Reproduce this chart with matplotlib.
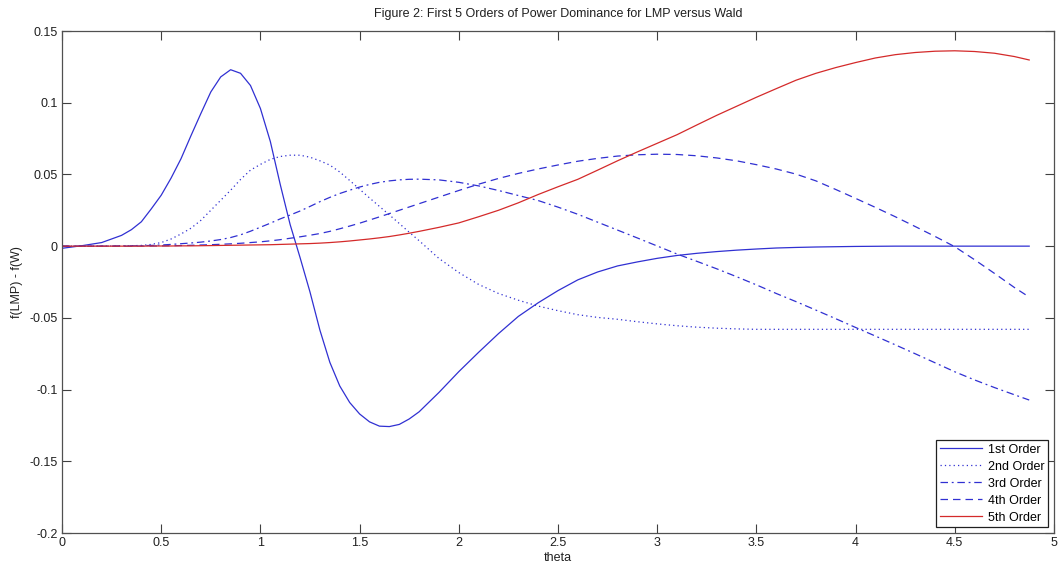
import matplotlib
matplotlib.use("Agg")
import matplotlib.pyplot as plt

plt.rcParams['font.family'] = ['Liberation Sans', 'DejaVu Sans']

theta = [0, 0.1, 0.2,
         0.3, 0.35, 0.4, 0.45, 0.5, 0.55, 0.6, 0.65, 0.7, 0.75,
         0.8, 0.85, 0.9, 0.95, 1.0, 1.05, 1.1, 1.15, 1.2, 1.25,
         1.3, 1.35, 1.4, 1.45, 1.5, 1.55, 1.6, 1.65, 1.7, 1.75, 1.8,
         1.9, 2.0, 2.1, 2.2, 2.3, 2.4, 2.5, 2.6, 2.7, 2.8,
         2.9, 3.0, 3.1, 3.2, 3.3, 3.4, 3.5, 3.6, 3.7, 3.8,
         3.9, 4.0, 4.1, 4.2, 4.3, 4.4, 4.5, 4.6, 4.7, 4.8, 4.875]

order1 = [-0.0015, 0.0003, 0.0025,
          0.0075, 0.0115, 0.017, 0.026, 0.0355, 0.0475, 0.061, 0.077, 0.0925, 0.1075,
          0.118, 0.123, 0.1205, 0.112, 0.096, 0.073, 0.043, 0.015, -0.008, -0.032,
          -0.0586, -0.081, -0.0975, -0.109, -0.117, -0.1225, -0.1255, -0.1258, -0.1243, -0.1205, -0.1155,
          -0.102, -0.0875, -0.074, -0.061, -0.049, -0.0395, -0.031, -0.0235, -0.018, -0.0138,
          -0.011, -0.0085, -0.0065, -0.005, -0.0038, -0.0028, -0.002, -0.0013, -0.0009, -0.0006,
          -0.0004, -0.0002, -0.0001, 0.0, 0.0, 0.0, 0.0, 0.0, 0.0, 0.0, 0.0]

order2 = [0.0, 0.0, 0.0,
          0.0002, 0.0003, 0.0005, 0.0012, 0.0025, 0.005, 0.0085, 0.0125, 0.018, 0.025,
          0.032, 0.039, 0.0465, 0.053, 0.057, 0.0605, 0.0625, 0.0634, 0.0634, 0.062,
          0.0595, 0.0565, 0.0517, 0.0458, 0.0397, 0.0336, 0.0277, 0.0218, 0.0158, 0.0097, 0.0038,
          -0.0086, -0.0184, -0.0267, -0.033, -0.0377, -0.0418, -0.045, -0.0478, -0.0497, -0.051,
          -0.0527, -0.0542, -0.0555, -0.0565, -0.0572, -0.0577, -0.058, -0.058, -0.058, -0.058,
          -0.058, -0.058, -0.058, -0.058, -0.058, -0.058, -0.058, -0.058, -0.058, -0.058, -0.058]

order3 = [0.0, 0.0, 0.0,
          0.0001, 0.0002, 0.0003, 0.0005, 0.0008, 0.0012, 0.0017, 0.0022, 0.0028, 0.0036,
          0.0046, 0.006, 0.0079, 0.0104, 0.0132, 0.016, 0.019, 0.0217, 0.0245, 0.0277,
          0.031, 0.034, 0.0367, 0.039, 0.0412, 0.043, 0.0445, 0.0455, 0.0462, 0.0466, 0.0467,
          0.0462, 0.0445, 0.042, 0.0388, 0.0353, 0.0318, 0.0272, 0.0222, 0.0167, 0.0112,
          0.0057, 0.0001, -0.0055, -0.0106, -0.0158, -0.0213, -0.027, -0.033, -0.0387, -0.0446,
          -0.0506, -0.0567, -0.0627, -0.0688, -0.075, -0.0813, -0.0876, -0.0933, -0.0986, -0.1036, -0.1073]

order4 = [0.0, 0.0, 0.0,
          0.0, 0.0, 0.0001, 0.0001, 0.0002, 0.0003, 0.0004, 0.0006, 0.0008, 0.001,
          0.0013, 0.0016, 0.002, 0.0025, 0.003, 0.0037, 0.0045, 0.0055, 0.0065, 0.0076,
          0.0088, 0.0103, 0.0121, 0.014, 0.016, 0.0182, 0.0204, 0.0227, 0.025, 0.0273, 0.0296,
          0.0342, 0.0388, 0.0432, 0.0472, 0.0507, 0.0538, 0.0566, 0.0592, 0.0612, 0.0628,
          0.0637, 0.0641, 0.0639, 0.063, 0.0615, 0.0595, 0.0568, 0.0538, 0.0502, 0.0455,
          0.0395, 0.0333, 0.027, 0.0205, 0.0137, 0.0068, -0.0004, -0.0095, -0.019, -0.0288, -0.0355]

order5 = [0.0, 0.0, 0.0,
          0.0, 0.0, 0.0, 0.0001, 0.0001, 0.0001, 0.0002, 0.0002, 0.0003, 0.0004,
          0.0005, 0.0006, 0.0007, 0.0008, 0.0009, 0.001, 0.0012, 0.0014, 0.0016, 0.0018,
          0.0021, 0.0025, 0.003, 0.0036, 0.0043, 0.005, 0.0058, 0.0067, 0.0078, 0.009, 0.0103,
          0.0131, 0.0162, 0.0205, 0.025, 0.0302, 0.036, 0.0414, 0.0466, 0.053, 0.0595,
          0.0657, 0.0717, 0.0777, 0.0845, 0.0912, 0.0975, 0.1038, 0.1098, 0.1157, 0.1205,
          0.1245, 0.128, 0.1312, 0.1335, 0.135, 0.1359, 0.1362, 0.1357, 0.1345, 0.1322, 0.1298]

labels = ['1st Order', '2nd Order', '3rd Order', '4th Order', '5th Order']
xticks = [0, 0.5, 1, 1.5, 2, 2.5, 3, 3.5, 4, 4.5, 5]
xticklabels = ['0', '0.5', '1', '1.5', '2', '2.5', '3', '3.5', '4', '4.5', '5']
yticks = [-0.2, -0.15, -0.1, -0.05, 0, 0.05, 0.1, 0.15]
yticklabels = ['-0.2', '-0.15', '-0.1', '-0.05', '0', '0.05', '0.1', '0.15']

blue = '#3030d2'
red = '#d42a2a'
txt = '#202020'

fig = plt.figure(figsize=(10.6, 5.7), dpi=100)
ax = fig.add_axes([62 / 1060, 37 / 570, 992 / 1060, 502 / 570])

ax.plot(theta, order1, color=blue, lw=0.9, linestyle='-', label=labels[0])
ax.plot(theta, order2, color=blue, lw=0.9, linestyle=(0, (1, 2.5)), label=labels[1])
ax.plot(theta, order3, color=blue, lw=0.9, linestyle=(0, (6, 3, 1.5, 3)), label=labels[2])
ax.plot(theta, order4, color=blue, lw=0.9, linestyle=(0, (6, 4)), label=labels[3])
ax.plot(theta, order5, color=red, lw=0.9, linestyle='-', label=labels[4])

ax.set_xlim(0, 5)
ax.set_ylim(-0.2, 0.15)
ax.set_xticks(xticks)
ax.set_xticklabels(xticklabels)
ax.set_yticks(yticks)
ax.set_yticklabels(yticklabels)
ax.tick_params(direction='in', length=6.5, width=0.8, color='#404040',
               labelsize=9, labelcolor=txt, top=True, right=True, pad=3)
for s in ax.spines.values():
    s.set_color('#505050')
    s.set_linewidth(0.9)

ax.set_title('Figure 2: First 5 Orders of Power Dominance for LMP versus Wald',
             fontsize=9, color=txt, pad=10)
ax.set_xlabel('theta', fontsize=9, color=txt, labelpad=2)
ax.set_ylabel('f(LMP) - f(W)', fontsize=9, color=txt, labelpad=5)

leg = ax.legend(loc='lower right', fontsize=9, frameon=True, fancybox=False,
                edgecolor=txt, framealpha=1, handlelength=3.4,
                handletextpad=0.45, labelspacing=0.4, borderpad=0.3,
                borderaxespad=0.45)
leg.get_frame().set_linewidth(0.9)

fig.savefig('out.png', dpi=100)
